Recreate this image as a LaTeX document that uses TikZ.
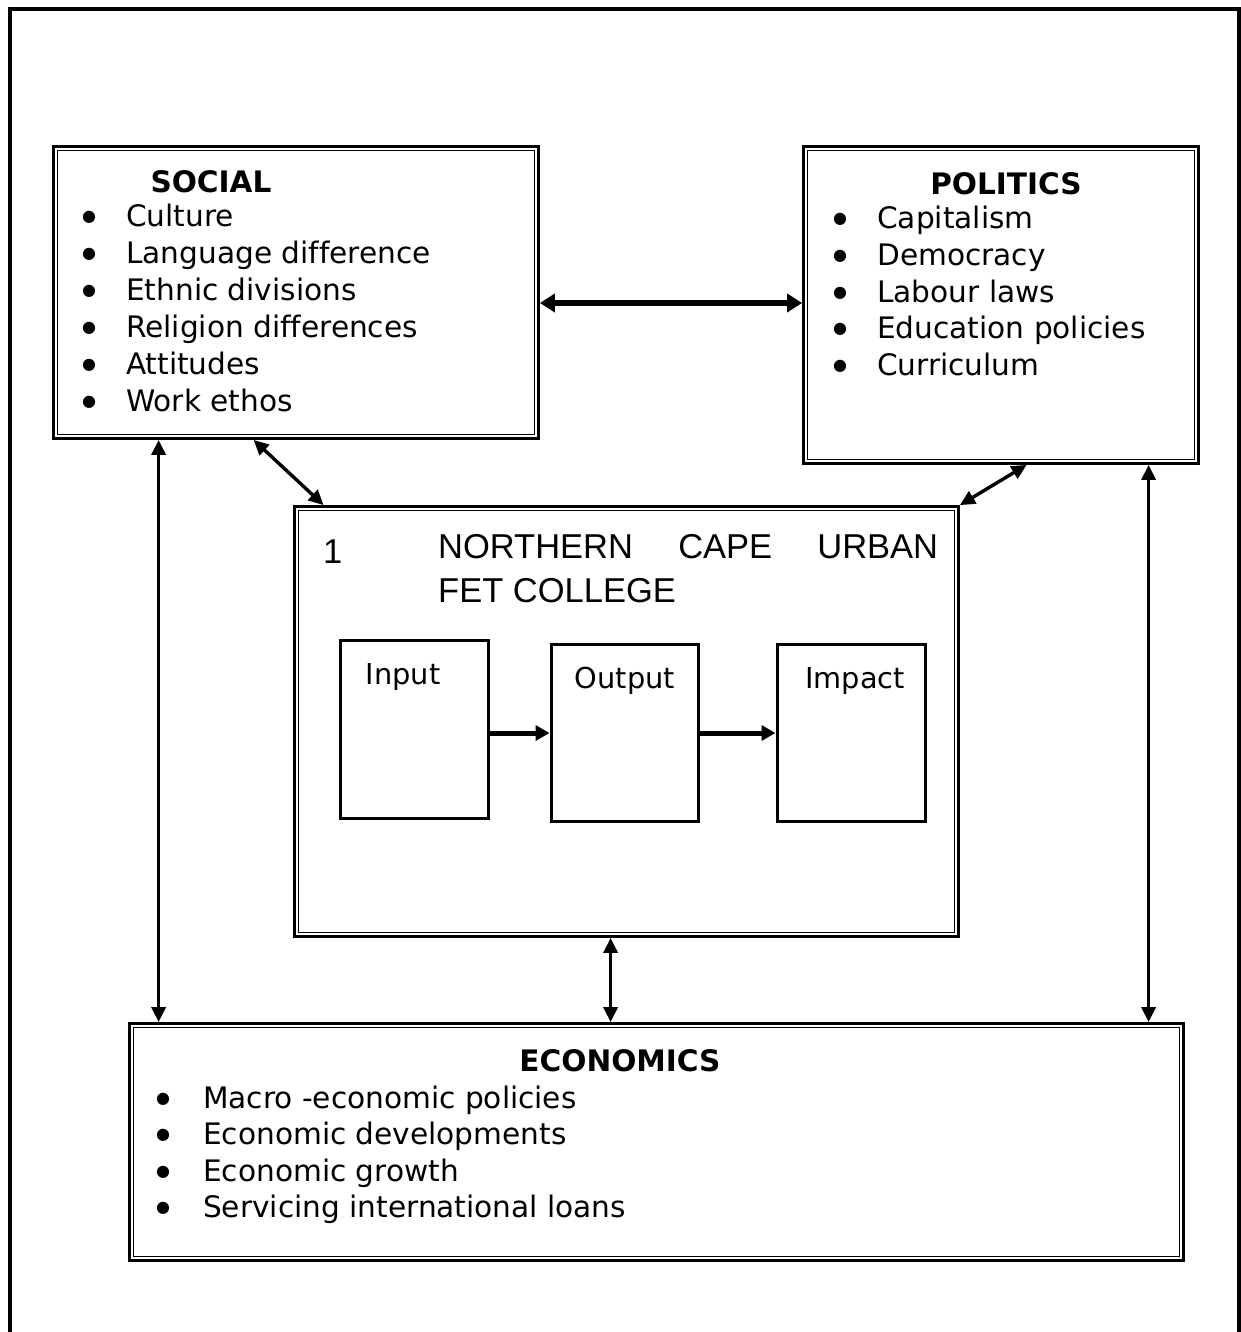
\documentclass[tikz,border=0pt]{standalone}
\usepackage{fontspec}
\setmainfont[Ligatures={NoCommon}]{DejaVu Sans}
\newfontfamily\titlefont{Liberation Sans}
\usetikzlibrary{arrows.meta,calc}

\newcommand\listmark{\smash{●}}

\tikzset{
  dbox/.style={draw, line width=2.8pt, inner sep=0pt, outer sep=1.4pt},
  sbox/.style={draw, line width=3pt, inner sep=0pt, outer sep=1.5pt},
  body/.style={inner sep=0pt, anchor=base west, font=\fontsize{29.6}{37}\selectfont},
  bul/.style={inner sep=0pt, anchor=base, font=\fontsize{16}{16}\selectfont},
  lbl/.style={inner sep=0pt, anchor=base, font=\fontsize{28.8}{37}\selectfont},
  head/.style={inner sep=0pt, anchor=base, font=\fontsize{29.6}{37}\selectfont\bfseries},
  link/.style={line width=3.4pt, {Triangle[length=15pt,width=14pt]}-{Triangle[length=15pt,width=14pt]}},
  biglink/.style={line width=5.5pt, {Triangle[length=15pt,width=18pt]}-{Triangle[length=15pt,width=18pt]}},
  flow/.style={line width=5pt, -{Triangle[length=14pt,width=15pt]}},
}

\begin{document}
\begin{tikzpicture}[x=1pt,y=-1pt]
\useasboundingbox (0,0) rectangle (1241,1332);

% page frame
\draw[line width=3.5pt] (10,1345) -- (10,9) -- (1239,9) -- (1239,1345);

% the four main boxes (outer line of the double frame)
\node[dbox, minimum width=485pt, minimum height=292pt] (social) at (296,292.5) {};
\node[dbox, minimum width=395pt, minimum height=317pt] (politics) at (1001,305) {};
\node[dbox, minimum width=664pt, minimum height=430pt] (college) at (626.5,721.5) {};
\node[dbox, minimum width=1054pt, minimum height=237pt] (econ) at (656.5,1142) {};

% inner line of each double frame
\foreach \n in {social,politics,college,econ}
  \draw[line width=1.5pt] ([shift={(5.5,5.5)}]\n.north west) rectangle ([shift={(-5.5,-5.5)}]\n.south east);

% SOCIAL
\node[head] (socialt) at (211,193) {SOCIAL};
\foreach \t [count=\i] in {Culture, Language difference, Ethnic divisions,
    Religion differences, Attitudes, Work ethos} {
  \node[bul] (sb\i) at (89,{222+36.8*(\i-1)}) {\listmark};
  \node[body] (st\i) at (126,{227+36.8*(\i-1)}) {\t};
}

% POLITICS
\node[head] (politicst) at (1006,195) {POLITICS};
\foreach \t [count=\i] in {Capitalism, Democracy, Labour laws,
    Education policies, Curriculum} {
  \node[bul] (pb\i) at (840,{224+36.6*(\i-1)}) {\listmark};
  \node[body] (pt\i) at (877,{229+36.6*(\i-1)}) {\t};
}

% ECONOMICS
\node[head] (econt) at (620,1071) {ECONOMICS};
\foreach \t [count=\i] in {Macro -economic policies, Economic developments,
    Economic growth, Servicing international loans} {
  \node[bul] (eb\i) at (163,{1103+36.6*(\i-1)}) {\listmark};
  \node[body] (et\i) at (203,{1108+36.6*(\i-1)}) {\t};
}

% college title
\node[inner sep=0pt, anchor=west, font=\titlefont\fontsize{34.5}{44}\selectfont]
  (cnum) at (323,552) {1};
\node[inner sep=0pt, anchor=north west, align=left,
  font=\titlefont\fontsize{34.5}{44}\selectfont]
  (ctitle) at (438,534) {\makebox[500pt][s]{NORTHERN\hfill CAPE\hfill URBAN}\\FET COLLEGE};

% process boxes
\node[sbox, minimum width=148pt, minimum height=178pt] (input) at (414,729) {};
\node[sbox, minimum width=147pt, minimum height=177pt] (output) at (624.5,732.5) {};
\node[sbox, minimum width=148pt, minimum height=177pt] (impact) at (851,732.5) {};
\node[lbl] (inputt) at (403,684) {Input};
\node[lbl] (outputt) at (625,688) {Output};
\node[lbl] (impactt) at (855,688) {Impact};

\draw[flow] (input.east |- 0,733) -- (output.west |- 0,733);
\draw[flow] (output.east |- 0,733) -- (impact.west |- 0,733);

% links between the boxes
\draw[biglink] (social.east |- 0,303) -- (politics.west |- 0,303);
\draw[link] ([xshift=201.5pt]social.south west) -- ([xshift=30.5pt]college.north west);
\draw[link] ([xshift=224.5pt]politics.south west) -- (college.north east);
\draw[link] ([xshift=106.5pt]social.south west) -- ([xshift=106.5pt]social.south west |- econ.north);
\draw[link] ([xshift=317.5pt]college.south west) -- ([xshift=317.5pt]college.south west |- econ.north);
\draw[link] ([xshift=346.5pt]politics.south west) -- ([xshift=346.5pt]politics.south west |- econ.north);
\end{tikzpicture}
\end{document}
